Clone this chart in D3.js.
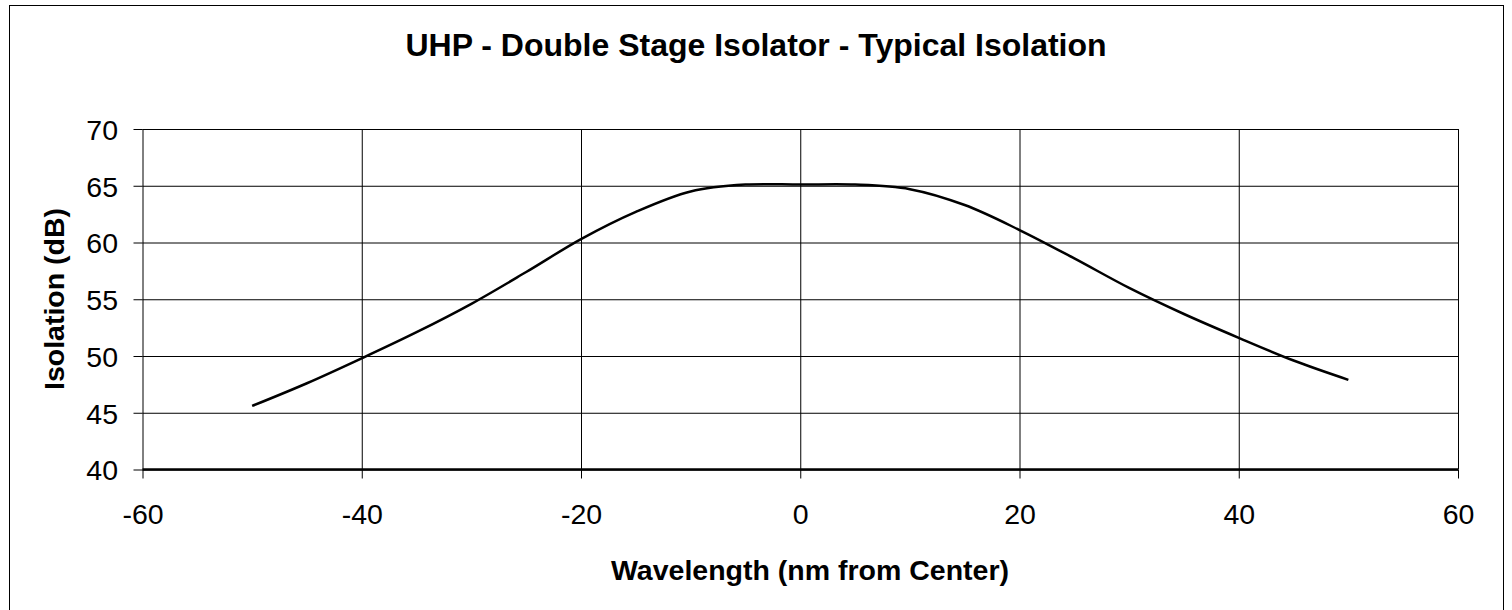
<!DOCTYPE html>
<html>
<head>
<meta charset="utf-8">
<script src="https://cdn.jsdelivr.net/npm/d3@7"></script>
<style>
  body { margin: 0; background: #fff; }
  text { font-family: "Liberation Sans", Arial, sans-serif; fill: #000; }
  .axis path { display: none; }
  .axis line { stroke: #000; }
  .grid line { stroke: #000; stroke-width: 1; }
  .grid path { display: none; }
</style>
</head>
<body>
<div class="container"></div>
<script>
const WIDTH = 1512;
const HEIGHT = 610;

const LEFT = 142.5, RIGHT = 1458, TOP = 129, BOTTOM = 469.5;

// wavelength offset from center (nm) and typical isolation (dB)
var wavelength = [-50, -45, -40, -35, -30, -25, -20, -15, -10, -5, 0, 5, 10, 15, 20, 25, 30, 35, 40, 45, 50];
var isolation  = [45.6, 47.6, 49.8, 52.1, 54.6, 57.4, 60.3, 62.7, 64.5, 65.1, 65.1, 65.1, 64.7, 63.3, 61.1, 58.6, 56.0, 53.7, 51.6, 49.6, 47.9];

var xTicks = [-60, -40, -20, 0, 20, 40, 60];
var yTicks = [40, 45, 50, 55, 60, 65, 70];

var title = 'UHP - Double Stage Isolator - Typical Isolation';
var xTitle = 'Wavelength (nm from Center)';
var yTitle = 'Isolation (dB)';

var translate = function(x, y){
  return 'translate('+x+','+y+')';
};

var execute = function () {
  var svg = d3.select('.container').append('svg')
    .attr('width', WIDTH)
    .attr('height', HEIGHT);

  // outer chart border
  svg.append('rect')
    .attr('x', 9.5).attr('y', 5.5)
    .attr('width', 1494).attr('height', 620)
    .attr('fill', 'none').attr('stroke', '#000').attr('stroke-width', 1);

  var xScale = d3.scaleLinear().domain([-60, 60]).range([LEFT, RIGHT]);
  var yScale = d3.scaleLinear().domain([40, 70]).range([BOTTOM, TOP]);
  var plain = function(d){ return String(d); };

  // grid
  svg.append('g')
    .classed('grid', true)
    .attr('transform', translate(0, BOTTOM))
    .call(d3.axisBottom(xScale).tickValues(xTicks).tickSize(-(BOTTOM - TOP)).tickFormat(''));
  svg.append('g')
    .classed('grid', true)
    .attr('transform', translate(LEFT, 0))
    .call(d3.axisLeft(yScale).tickValues(yTicks).tickSize(-(RIGHT - LEFT)).tickFormat(''));

  // axes
  var xAxis = svg.append('g')
    .classed('axis', true)
    .attr('transform', translate(0, BOTTOM))
    .call(d3.axisBottom(xScale).tickValues(xTicks).tickFormat(plain).tickSize(9).tickPadding(25).tickSizeOuter(0));
  xAxis.selectAll('text').style('font-size', '28.5px');
  xAxis.selectAll('line').attr('stroke', '#666');

  var yAxis = svg.append('g')
    .classed('axis', true)
    .attr('transform', translate(LEFT, 0))
    .call(d3.axisLeft(yScale).tickValues(yTicks).tickFormat(plain).tickSize(9).tickPadding(15.5).tickSizeOuter(0));
  yAxis.selectAll('text').style('font-size', '28.5px').attr('dy', '0.36em');
  yAxis.selectAll('line').attr('stroke', '#666');

  // bottom axis line
  svg.append('line')
    .attr('x1', LEFT).attr('x2', RIGHT)
    .attr('y1', BOTTOM).attr('y2', BOTTOM)
    .attr('stroke', '#000').attr('stroke-width', 2.5);

  // curve
  var data = wavelength.map(function(w, i){ return {x: w, y: isolation[i]}; });
  var line = d3.line()
    .curve(d3.curveCatmullRom)
    .x(function(d){ return xScale(d.x); })
    .y(function(d){ return yScale(d.y); });
  svg.append('path')
    .attr('d', line(data))
    .attr('fill', 'none')
    .attr('stroke', '#000')
    .attr('stroke-width', 2.5);

  // titles
  svg.append('text')
    .attr('x', 756).attr('y', 56)
    .attr('text-anchor', 'middle')
    .style('font-size', '32px').style('font-weight', 'bold')
    .text(title);

  svg.append('text')
    .attr('x', 810).attr('y', 580)
    .attr('text-anchor', 'middle')
    .style('font-size', '28.5px').style('font-weight', 'bold')
    .text(xTitle);

  svg.append('text')
    .attr('transform', translate(64, 299) + ' rotate(-90)')
    .attr('text-anchor', 'middle')
    .style('font-size', '28.5px').style('font-weight', 'bold')
    .text(yTitle);
};

window.onload = execute;
</script>
</body>
</html>
